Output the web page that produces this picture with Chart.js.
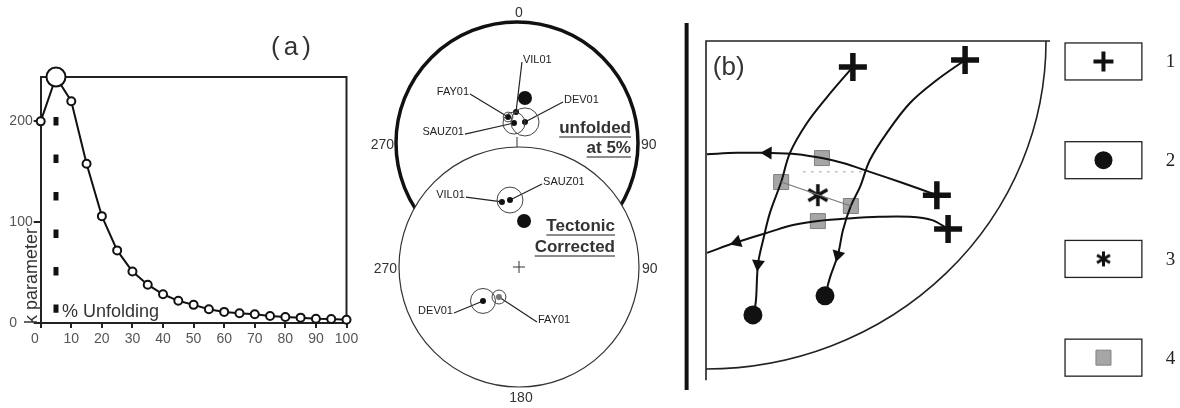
<!DOCTYPE html>
<html>
<head>
<meta charset="utf-8">
<script src="https://cdn.jsdelivr.net/npm/chart.js@4.4.1/dist/chart.umd.min.js"></script>
<style>
  body { margin: 0; background: #fff; }
  #wrap { position: relative; width: 1180px; height: 408px; overflow: hidden; background: #fff; }
  canvas { position: absolute; }
</style>
</head>
<body>
<div id="wrap">
  <canvas id="kChart" width="370" height="408" style="left:0;top:0"></canvas>
  <canvas id="netTop" width="310" height="290" style="left:360px;top:0;z-index:1"></canvas>
  <canvas id="netBottom" width="310" height="268" style="left:360px;top:140px;z-index:2"></canvas>
  <canvas id="schema" width="510" height="408" style="left:670px;top:0"></canvas>
</div>
<script>
// ---- (a) k parameter vs % unfolding ----
const unfolding = [0, 5, 10, 15, 20, 25, 30, 35, 40, 45, 50, 55, 60, 65, 70, 75, 80, 85, 90, 95, 100];
const kParam = [200, 244, 220, 158, 106, 72, 51, 38, 28.5, 22, 18, 13.6, 11, 9.6, 8.6, 7, 6, 5.3, 4.3, 4, 3.3];
const xTickValues = [0, 10, 20, 30, 40, 50, 60, 70, 80, 90, 100];
const yTickValues = [0, 100, 200];
const markAt = 5;               // dashed line at best unfolding
const markSpan = [204.3, 10.2]; // top and bottom k of the dashed line

// ---- stereonets, coordinates in net radius units (north up) ----
const topSites = ['VIL01', 'FAY01', 'SAUZ01', 'DEV01'];
const topX = [-0.008, -0.074, -0.025, 0.066];
const topY = [0.256, 0.215, 0.165, 0.174];
const topA95 = [0, 0.04, 0.091, 0.116];
const topMean = [0.066, 0.372];
const topLabelX = [0.041, -0.388, -0.430, 0.380];
const topLabelY = [0.669, 0.405, 0.074, 0.339];
const topLabelSide = ['left', 'right', 'right', 'left'];
const topDirs = ['0', '90', '270'];
const topTitle = ['unfolded', 'at 5%'];

const bottomSites = ['VIL01', 'SAUZ01', 'DEV01', 'FAY01'];
const bottomX = [-0.142, -0.075, -0.300, -0.167];
const bottomY = [0.542, 0.558, -0.283, -0.250];
const bottomA95 = [0, 0.108, 0.104, 0.058];
const bottomMean = [0.042, 0.383];
const bottomLabelX = [-0.442, 0.192, -0.542, 0.150];
const bottomLabelY = [0.583, 0.692, -0.383, -0.458];
const bottomLabelSide = ['right', 'left', 'right', 'left'];
const bottomDirs = ['90', '180', '270'];
const bottomTitle = ['Tectonic', 'Corrected'];

// ---- (b) schematic quadrant, fractions of the quadrant radius (y down) ----
const plusPts = [[0.432, 0.079], [0.762, 0.058], [0.679, 0.470], [0.712, 0.573]];
const dotPts = [[0.138, 0.835], [0.350, 0.777]];
const starPts = [[0.329, 0.470]];
const squarePts = [[0.341, 0.357], [0.221, 0.430], [0.426, 0.503], [0.329, 0.549]];
const curves = [
    [[0.432, 0.079], [0.356, 0.171], [0.297, 0.250], [0.247, 0.341], [0.221, 0.430], [0.188, 0.524], [0.168, 0.607], [0.153, 0.680], [0.147, 0.790], [0.141, 0.830]],
    [[0.762, 0.058], [0.679, 0.119], [0.600, 0.189], [0.532, 0.280], [0.482, 0.363], [0.453, 0.445], [0.426, 0.503], [0.403, 0.576], [0.388, 0.652], [0.365, 0.720], [0.352, 0.770]],
    [[0.679, 0.470], [0.579, 0.433], [0.482, 0.399], [0.403, 0.372], [0.341, 0.357], [0.268, 0.345], [0.182, 0.341], [0.091, 0.341], [0.003, 0.345]],
    [[0.712, 0.573], [0.665, 0.546], [0.600, 0.536], [0.510, 0.536], [0.420, 0.541], [0.329, 0.549], [0.256, 0.561], [0.188, 0.582], [0.091, 0.613], [0.003, 0.646]]
];
const arrowAt = [7, 8, 6, 8];
const dashedLink = [[0.221, 0.430], [0.426, 0.503]];
const faintLink = [[0.285, 0.399], [0.462, 0.399]];
const legendKeys = ['1', '2', '3', '4'];

Chart.defaults.font.family = "'Liberation Sans', Arial, sans-serif";
Chart.defaults.color = '#555';

function pts(arr) {
    return arr.map(p => ({x: p[0], y: p[1]}));
}

// ================= (a) =================
const peakIdx = kParam.indexOf(Math.max(...kParam));

const frameA = {
    id: 'frameA',
    beforeDatasetsDraw(chart) {
        const {ctx, chartArea: a} = chart;
        ctx.save();
        ctx.strokeStyle = '#222';
        ctx.lineWidth = 2;
        ctx.beginPath();
        ctx.moveTo(a.left, a.top);
        ctx.lineTo(a.right, a.top);
        ctx.lineTo(a.right, a.bottom);
        ctx.stroke();
        ctx.restore();
    },
    afterDraw(chart) {
        const ctx = chart.ctx;
        ctx.save();
        ctx.fillStyle = '#333';
        ctx.textBaseline = 'middle';

        ctx.font = "26px 'Liberation Sans'";
        ctx.letterSpacing = '4px';
        ctx.textAlign = 'center';
        ctx.fillText('(a)', 293, 48);
        ctx.letterSpacing = '0px';

        ctx.font = "18px 'Liberation Sans'";
        ctx.textAlign = 'left';
        ctx.fillText('% Unfolding', 62, 312);

        ctx.translate(32, 276);
        ctx.rotate(-Math.PI / 2);
        ctx.textAlign = 'center';
        ctx.fillText('k parameter', 0, 0);
        ctx.restore();
    }
};

new Chart(document.getElementById('kChart'), {
    type: 'line',
    data: {
        datasets: [
            {
                data: unfolding.map((x, i) => ({x: x, y: kParam[i]})),
                borderColor: '#111',
                borderWidth: 2,
                pointBackgroundColor: '#fff',
                pointBorderColor: '#111',
                pointBorderWidth: 2,
                pointRadius: ctx => ctx.dataIndex === peakIdx ? 9.5 : 4,
                tension: 0,
                clip: false
            },
            {
                data: [{x: markAt, y: markSpan[0]}, {x: markAt, y: markSpan[1]}],
                borderColor: '#111',
                borderWidth: 5,
                borderDash: [8.5, 29],
                borderCapStyle: 'butt',
                pointRadius: 0
            }
        ]
    },
    options: {
        responsive: false,
        animation: false,
        devicePixelRatio: 1,
        events: [],
        layout: { autoPadding: false, padding: { left: 0, top: 77, right: 23.5, bottom: 55 } },
        plugins: { legend: { display: false }, tooltip: { enabled: false } },
        scales: {
            x: {
                type: 'linear',
                min: 0,
                max: 100,
                afterFit: s => { s.height = 30; },
                afterBuildTicks: s => { s.ticks = xTickValues.map(v => ({value: v})); },
                ticks: { color: '#555', font: { size: 14 }, padding: 3, maxRotation: 0,
                         callback: v => v === 0 ? '0   ' : String(v) },
                grid: { drawOnChartArea: false, drawTicks: true, tickLength: 5, color: '#222', lineWidth: 2 },
                border: { display: true, color: '#222', width: 2 }
            },
            y: {
                min: 0,
                max: 244,
                afterFit: s => { s.width = 40.7; },
                afterBuildTicks: s => { s.ticks = yTickValues.map(v => ({value: v})); },
                ticks: { color: '#555', font: { size: 14 }, padding: 1,
                         callback: v => v === 0 ? '0    ' : String(v) },
                grid: { drawOnChartArea: false, drawTicks: true, tickLength: 7, color: '#222', lineWidth: 2 },
                border: { display: true, color: '#222', width: 2 }
            }
        }
    },
    plugins: [frameA]
});

// ================= stereonets =================
function unitPx(chart) {
    const xs = chart.scales.x;
    return xs.getPixelForValue(1) - xs.getPixelForValue(0);
}

function makeNet(id, box, d) {
    const sitePts = d.x.map((x, i) => ({x: x, y: d.y[i]}));
    const netPlugin = {
        id: 'net' + id,
        beforeDatasetsDraw(chart) {
            const {ctx, scales: {x: xs, y: ys}} = chart;
            const cx = xs.getPixelForValue(0), cy = ys.getPixelForValue(0);
            const r = unitPx(chart);
            ctx.save();
            // primitive circle
            ctx.beginPath();
            ctx.arc(cx, cy, r, 0, Math.PI * 2);
            if (box.fill) {
                ctx.fillStyle = '#fff';
                ctx.fill();
            }
            ctx.strokeStyle = box.rimColor;
            ctx.lineWidth = box.rim;
            ctx.stroke();
            // centre mark
            ctx.strokeStyle = '#333';
            ctx.lineWidth = 1;
            ctx.beginPath();
            ctx.moveTo(cx, cy - 6);
            ctx.lineTo(cx, cy + 6);
            if (box.fullCross) {
                ctx.moveTo(cx - 6, cy);
                ctx.lineTo(cx + 6, cy);
            }
            ctx.stroke();
            // leader lines
            ctx.strokeStyle = '#222';
            ctx.lineWidth = 1.2;
            d.names.forEach((n, i) => {
                ctx.beginPath();
                ctx.moveTo(xs.getPixelForValue(d.labelX[i]), ys.getPixelForValue(d.labelY[i]));
                ctx.lineTo(xs.getPixelForValue(d.x[i]), ys.getPixelForValue(d.y[i]));
                ctx.stroke();
            });
            ctx.restore();
        },
        afterDatasetsDraw(chart) {
            const {ctx, scales: {x: xs, y: ys}} = chart;
            const cx = xs.getPixelForValue(0), cy = ys.getPixelForValue(0);
            const r = unitPx(chart);
            ctx.save();
            // site labels
            ctx.font = "11px 'Liberation Sans'";
            ctx.fillStyle = '#222';
            ctx.textBaseline = 'middle';
            d.names.forEach((n, i) => {
                const px = xs.getPixelForValue(d.labelX[i]);
                const py = ys.getPixelForValue(d.labelY[i]);
                ctx.textAlign = d.side[i] === 'left' ? 'left' : 'right';
                ctx.fillText(n, px + (d.side[i] === 'left' ? 1 : -1), py - 2);
            });
            // azimuth labels
            ctx.font = "14px 'Liberation Sans'";
            ctx.fillStyle = '#333';
            d.dirs.forEach(t => {
                if (t === '0') { ctx.textAlign = 'center'; ctx.fillText(t, cx + 2, cy - r - 9); }
                if (t === '180') { ctx.textAlign = 'center'; ctx.fillText(t, cx + 2, cy + r + 11); }
                if (t === '90') { ctx.textAlign = 'left'; ctx.fillText(t, cx + r + 3, cy + 2); }
                if (t === '270') { ctx.textAlign = 'right'; ctx.fillText(t, cx - r - 2, cy + 2); }
            });
            // bold underlined title
            ctx.font = "bold 17px 'Liberation Sans'";
            ctx.textAlign = 'right';
            const tx = xs.getPixelForValue(box.titleX);
            let ty = ys.getPixelForValue(box.titleY);
            d.title.forEach(t => {
                ctx.fillStyle = '#333';
                ctx.fillText(t, tx, ty);
                const w = ctx.measureText(t).width;
                ctx.strokeStyle = '#666';
                ctx.lineWidth = 1.6;
                ctx.beginPath();
                ctx.moveTo(tx - w, ty + 9);
                ctx.lineTo(tx, ty + 9);
                ctx.stroke();
                ty += box.titleStep;
            });
            ctx.restore();
        }
    };

    return new Chart(document.getElementById(id), {
        type: 'scatter',
        data: {
            datasets: [
                {
                    data: sitePts,
                    pointRadius: ctx => d.a95[ctx.dataIndex] * unitPx(ctx.chart),
                    pointBackgroundColor: 'rgba(0,0,0,0)',
                    pointBorderColor: '#444',
                    pointBorderWidth: 1
                },
                {
                    data: sitePts,
                    pointRadius: 3,
                    pointBackgroundColor: d.colors,
                    pointBorderWidth: 0
                },
                {
                    data: [{x: d.mean[0], y: d.mean[1]}],
                    pointRadius: 7,
                    pointBackgroundColor: '#111',
                    pointBorderWidth: 0
                }
            ]
        },
        options: {
            responsive: false,
            animation: false,
            devicePixelRatio: 1,
            events: [],
            layout: { autoPadding: false, padding: 0 },
            plugins: { legend: { display: false }, tooltip: { enabled: false } },
            scales: {
                x: { display: false, min: -(box.cx - box.left) / box.r, max: (box.left + box.w - box.cx) / box.r },
                y: { display: false, min: -(box.top + box.h - box.cy) / box.r, max: (box.cy - box.top) / box.r }
            }
        },
        plugins: [netPlugin]
    });
}

makeNet('netTop',
    { left: 360, top: 0, w: 310, h: 290, cx: 517, cy: 143, r: 121, rim: 3.5, rimColor: '#111', fill: false,
      fullCross: false, titleX: 0.942, titleY: 0.124, titleStep: 20 },
    { names: topSites, x: topX, y: topY, a95: topA95, mean: topMean, labelX: topLabelX, labelY: topLabelY,
      side: topLabelSide, dirs: topDirs, title: topTitle, colors: ['#111', '#111', '#111', '#111'] });

makeNet('netBottom',
    { left: 360, top: 140, w: 310, h: 268, cx: 519, cy: 267, r: 120, rim: 1.2, rimColor: '#333', fill: true,
      fullCross: true, titleX: 0.8, titleY: 0.342, titleStep: 21 },
    { names: bottomSites, x: bottomX, y: bottomY, a95: bottomA95, mean: bottomMean, labelX: bottomLabelX, labelY: bottomLabelY,
      side: bottomLabelSide, dirs: bottomDirs, title: bottomTitle, colors: ['#111', '#111', '#111', '#777'] });

// ================= (b) =================
// six-armed asterisk used as a point style
function asterisk(size, lw) {
    const c = document.createElement('canvas');
    c.width = c.height = size;
    const g = c.getContext('2d');
    g.strokeStyle = '#111';
    g.lineWidth = lw;
    g.lineCap = 'butt';
    const m = size / 2, a = size / 2 - 1;
    [90, 30, 150].forEach(deg => {
        const t = deg * Math.PI / 180;
        g.beginPath();
        g.moveTo(m - Math.cos(t) * a, m - Math.sin(t) * a);
        g.lineTo(m + Math.cos(t) * a, m + Math.sin(t) * a);
        g.stroke();
    });
    return c;
}

const plusStyle = { pointStyle: 'cross', radius: 14, borderWidth: 5.5, color: '#111', fill: '#111' };
const dotStyle = { pointStyle: 'circle', radius: 9.5, borderWidth: 0, color: '#111', fill: '#111' };
const starStyle = { pointStyle: asterisk(24, 3.5), radius: 12, borderWidth: 0, color: '#111', fill: '#111' };
const squareStyle = { pointStyle: 'rect', radius: 10.6, borderWidth: 1, color: '#808080', fill: '#a6a6a6' };
const legendStyles = [
    Object.assign({}, plusStyle, { radius: 10, borderWidth: 4 }),
    Object.assign({}, dotStyle, { radius: 9 }),
    Object.assign({}, starStyle, { pointStyle: asterisk(17, 3), radius: 8 }),
    squareStyle
];

function markerSet(arr, st) {
    return {
        data: pts(arr),
        showLine: false,
        pointStyle: st.pointStyle,
        pointRadius: st.radius,
        pointBorderWidth: st.borderWidth,
        pointBorderColor: st.color,
        pointBackgroundColor: st.fill
    };
}

const schemaPlugin = {
    id: 'schema',
    beforeDatasetsDraw(chart) {
        const {ctx, scales: {x: xs, y: ys}} = chart;
        const ox = xs.getPixelForValue(0), oy = ys.getPixelForValue(0);
        const rx = xs.getPixelForValue(1) - ox, ry = ys.getPixelForValue(1) - oy;
        ctx.save();
        // thick separator
        ctx.strokeStyle = '#111';
        ctx.lineWidth = 4;
        ctx.beginPath();
        ctx.moveTo(xs.getPixelForValue(-0.057), ys.getPixelForValue(-0.055));
        ctx.lineTo(xs.getPixelForValue(-0.057), ys.getPixelForValue(1.064));
        ctx.stroke();
        // quadrant frame
        ctx.strokeStyle = '#222';
        ctx.lineWidth = 1.6;
        ctx.beginPath();
        ctx.moveTo(ox + rx * 1.012, oy);
        ctx.lineTo(ox, oy);
        ctx.lineTo(ox, ys.getPixelForValue(1.034));
        ctx.stroke();
        ctx.beginPath();
        ctx.ellipse(ox, oy, rx, ry, 0, 0, Math.PI / 2);
        ctx.stroke();
        // legend boxes
        ctx.lineWidth = 1.3;
        legendKeys.forEach((k, i) => {
            const top = ys.getPixelForValue(0.006 + i * 0.301);
            const left = xs.getPixelForValue(1.056);
            const right = xs.getPixelForValue(1.282);
            ctx.strokeRect(left, top, right - left, 37);
        });
        ctx.restore();
    },
    afterDatasetsDraw(chart) {
        const {ctx, scales: {x: xs, y: ys}} = chart;
        ctx.save();
        legendKeys.forEach((k, i) => {
            const st = legendStyles[i];
            const cy = ys.getPixelForValue(0.006 + i * 0.301) + 18.5;
            const cx = (xs.getPixelForValue(1.056) + xs.getPixelForValue(1.282)) / 2;
            ctx.fillStyle = st.fill;
            ctx.strokeStyle = st.color;
            ctx.lineWidth = st.borderWidth;
            Chart.helpers.drawPoint(ctx, { pointStyle: st.pointStyle, radius: st.radius, borderWidth: st.borderWidth, rotation: 0 }, cx, cy);
            ctx.fillStyle = '#222';
            ctx.font = "19px 'Liberation Serif'";
            ctx.textAlign = 'left';
            ctx.textBaseline = 'middle';
            ctx.fillText(k, xs.getPixelForValue(1.352), cy + 1);
        });
        ctx.fillStyle = '#333';
        ctx.font = "26px 'Liberation Sans'";
        ctx.textAlign = 'left';
        ctx.textBaseline = 'middle';
        ctx.fillText('(b)', xs.getPixelForValue(0.02), ys.getPixelForValue(0.082));
        ctx.restore();
    }
};

const curveSets = curves.map(c => ({
    data: pts(c),
    showLine: true,
    tension: 0.35,
    borderColor: '#111',
    borderWidth: 2,
    pointRadius: 0
}));

const arrowSet = {
    data: arrowAt.map((k, i) => ({x: curves[i][k][0], y: curves[i][k][1]})),
    showLine: false,
    pointStyle: 'triangle',
    pointRadius: 7.5,
    pointBorderWidth: 0,
    pointBackgroundColor: '#111',
    pointRotation: ctx => {
        const c = curves[ctx.dataIndex], k = arrowAt[ctx.dataIndex];
        const xs = ctx.chart.scales.x, ys = ctx.chart.scales.y;
        const dx = xs.getPixelForValue(c[k + 1][0]) - xs.getPixelForValue(c[k - 1][0]);
        const dy = ys.getPixelForValue(c[k + 1][1]) - ys.getPixelForValue(c[k - 1][1]);
        return Math.atan2(dx, -dy) * 180 / Math.PI;
    }
};

new Chart(document.getElementById('schema'), {
    type: 'scatter',
    data: {
        datasets: [
            { data: pts(faintLink), showLine: true, borderColor: '#c4c4c4', borderWidth: 1.5, borderDash: [3, 5], pointRadius: 0 },
            { data: pts(dashedLink), showLine: true, borderColor: '#777', borderWidth: 1.2, pointRadius: 0 },
            ...curveSets,
            arrowSet,
            markerSet(squarePts, squareStyle),
            markerSet(plusPts, plusStyle),
            markerSet(dotPts, dotStyle),
            markerSet(starPts, starStyle)
        ]
    },
    options: {
        responsive: false,
        animation: false,
        devicePixelRatio: 1,
        events: [],
        layout: { autoPadding: false, padding: 0 },
        plugins: { legend: { display: false }, tooltip: { enabled: false } },
        scales: {
            x: { display: false, min: -36 / 340, max: 474 / 340 },
            y: { display: false, reverse: true, min: -41 / 328, max: 367 / 328 }
        }
    },
    plugins: [schemaPlugin]
});
</script>
</body>
</html>
